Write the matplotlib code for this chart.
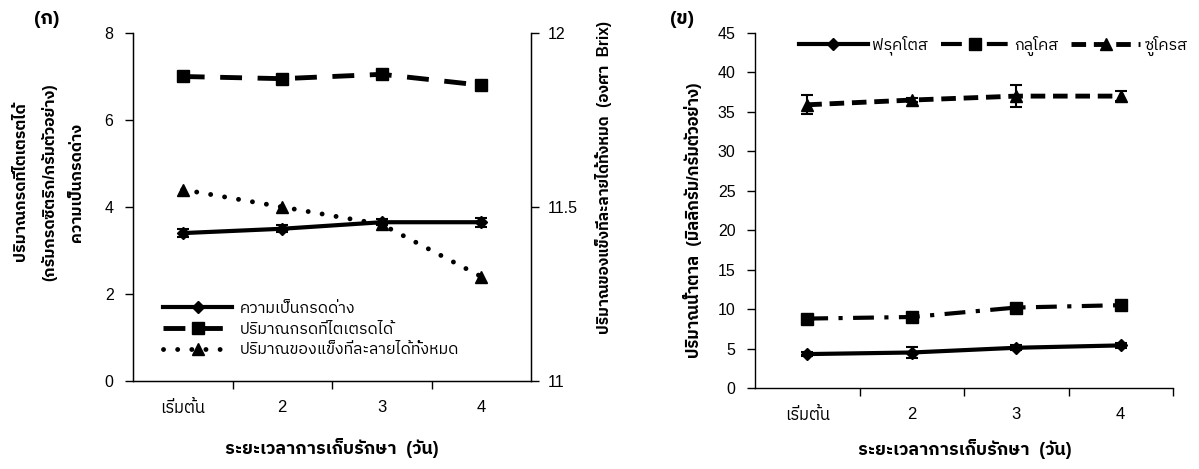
import matplotlib
matplotlib.use("Agg")
import matplotlib.pyplot as plt
from matplotlib.lines import Line2D
import numpy as np

plt.rcParams['font.family'] = ['Liberation Sans', 'IBM Plex Sans Thai']

# ---------------- data ----------------
categories = ["เริ่มต้น", "2", "3", "4"]

ph_values = [3.4, 3.5, 3.65, 3.65]
ph_err = [0.1, 0.08, 0.07, 0.1]
ta_values = [7.0, 6.95, 7.05, 6.8]
tss_values = [11.55, 11.5, 11.45, 11.3]

fructose = [4.3, 4.5, 5.1, 5.4]
fructose_err = [0.3, 0.7, 0.3, 0.3]
glucose = [8.8, 9.0, 10.2, 10.5]
glucose_err = [0.2, 0.2, 0.2, 0.2]
sucrose = [35.9, 36.5, 37.0, 37.0]
sucrose_err = [1.2, 0.3, 1.4, 0.6]

left_labels = ["ความเป็นกรดด่าง", "ปริมาณกรดที่ไตเตรดได้", "ปริมาณของแข็งที่ละลายได้ทั้งหมด"]
sugar_labels = ["ฟรุคโตส", "กลูโคส", "ซูโครส"]

xlabel = "ระยะเวลาการเก็บรักษา  (วัน)"
ylabel_left = "ปริมาณกรดที่ไตเตรตได้\n(กรัมกรดซิตริก/กรัมตัวอย่าง)\nความเป็นกรดด่าง"
ylabel_right = "ปริมาณของแข็งที่ละลายได้ทั้งหมด  (องศา  Brix)"
ylabel_sugar = "ปริมาณน้ำตาล  (มิลลิกรัม/กรัมตัวอย่าง)"

FS = 11.5
W, H = 1199, 469
fig = plt.figure(figsize=(W / 100, H / 100), dpi=100)


def px_axes(x0, y0, x1, y1):
    return fig.add_axes([x0 / W, 1 - y1 / H, (x1 - x0) / W, (y1 - y0) / H])


x = np.arange(len(categories))


def setup_xaxis(ax, right_tick):
    ax.set_xlim(-0.5, len(categories) - 0.5)
    bnds = list(np.arange(0.5, len(categories) - 0.5, 1.0))
    if right_tick:
        bnds.append(len(categories) - 0.5)
    ax.set_xticks(bnds)
    ax.set_xticklabels([])
    ax.tick_params(axis='x', which='major', direction='out', length=6, width=1)
    ax.set_xticks(x, minor=True)
    ax.set_xticklabels(categories, minor=True, fontsize=FS + 0.5)
    ax.tick_params(axis='x', which='minor', length=0, pad=14)
    ax.tick_params(axis='y', direction='out', length=6, width=1, labelsize=FS, pad=8)
    ax.spines['top'].set_visible(False)
    for s in ax.spines.values():
        s.set_linewidth(1.0)


# ---------------- left panel ----------------
ax1 = px_axes(133, 33, 531, 381)
setup_xaxis(ax1, False)
ax1.set_ylim(0, 8)
ax1.set_yticks([0, 2, 4, 6, 8])

ax1.errorbar(x, ph_values, yerr=ph_err, color='black', lw=3, marker='D', ms=6,
             capsize=4, elinewidth=1.5, capthick=1.5)
ax1.plot(x, ta_values, color='black', lw=3.5, marker='s', ms=9, dashes=(4.5, 3.2))

ax2 = ax1.twinx()
ax2.set_ylim(11, 12)
ax2.set_yticks([11, 11.5, 12])
ax2.set_yticklabels(["11", "11.5", "12"])
ax2.tick_params(axis='y', direction='out', length=6, width=1, labelsize=FS, pad=6)
ax2.spines['top'].set_visible(False)
ax2.plot(x, tss_values, color='black', lw=3.5, marker='^', ms=9,
         dashes=(0.01, 2.9), dash_capstyle='round')

h1 = Line2D([], [], color='black', lw=3, marker='D', ms=6)
h2 = Line2D([], [], color='black', lw=3.5, marker='s', ms=9, dashes=(4.5, 3.2))
h3 = Line2D([], [], color='black', lw=3.5, marker='^', ms=9, dashes=(0.01, 2.9),
            dash_capstyle='round')
ax1.legend([h1, h2, h3], left_labels, loc='lower left', bbox_to_anchor=(0.06, 0.05),
           frameon=False, fontsize=FS, handlelength=4.3, handletextpad=0.5,
           labelspacing=0.35, borderaxespad=0, numpoints=1)

fig.text(47 / W, 1 - 20 / H, "(ก)", fontsize=14, fontweight='bold', ha='center', va='center')
fig.text(49 / W, 1 - 182 / H, ylabel_left, rotation=90, fontsize=FS, fontweight='bold',
         ha='center', va='center', multialignment='center', linespacing=2.0)
fig.text(603 / W, 1 - 177 / H, ylabel_right, rotation=90, fontsize=FS - 0.3, fontweight='bold',
         ha='center', va='center')
fig.text(332 / W, 1 - 448 / H, xlabel, fontsize=12.8, fontweight='bold', ha='center', va='center')

# ---------------- right panel ----------------
ax3 = px_axes(755, 33, 1173, 388)
setup_xaxis(ax3, True)
ax3.spines['right'].set_visible(False)
ax3.set_ylim(0, 45)
ax3.set_yticks(np.arange(0, 46, 5))

s1 = ax3.errorbar(x, fructose, yerr=fructose_err, color='black', lw=3, marker='D', ms=6,
                  capsize=4, elinewidth=1.5, capthick=1.5)
s2 = ax3.errorbar(x, glucose, yerr=glucose_err, color='black', lw=3, marker='s', ms=9,
                  capsize=4, elinewidth=1.5, capthick=1.5)
s2[0].set_dashes((5, 2.5, 1, 2.5))
s3 = ax3.errorbar(x, sucrose, yerr=sucrose_err, color='black', lw=3.5, marker='^', ms=9,
                  capsize=4, elinewidth=1.5, capthick=1.5)
s3[0].set_dashes((3, 1.6))

g1 = Line2D([], [], color='black', lw=3, marker='D', ms=6)
g2 = Line2D([], [], color='black', lw=3, marker='s', ms=9, dashes=(5, 2.5, 1, 2.5))
g3 = Line2D([], [], color='black', lw=3.5, marker='^', ms=9, dashes=(3, 1.6))
ax3.legend([g1, g2, g3], sugar_labels, loc='upper center', bbox_to_anchor=(0.57, 1.01),
           ncol=3, frameon=False, fontsize=FS, handlelength=4.3, handletextpad=0.3,
           columnspacing=0.8, borderaxespad=0, numpoints=1)

fig.text(682 / W, 1 - 19 / H, "(ข)", fontsize=14, fontweight='bold', ha='center', va='center')
fig.text(692 / W, 1 - 220 / H, ylabel_sugar, rotation=90, fontsize=12, fontweight='bold',
         ha='center', va='center')
fig.text(965 / W, 1 - 449 / H, xlabel, fontsize=12.8, fontweight='bold', ha='center', va='center')

fig.savefig("out.png", dpi=100)
